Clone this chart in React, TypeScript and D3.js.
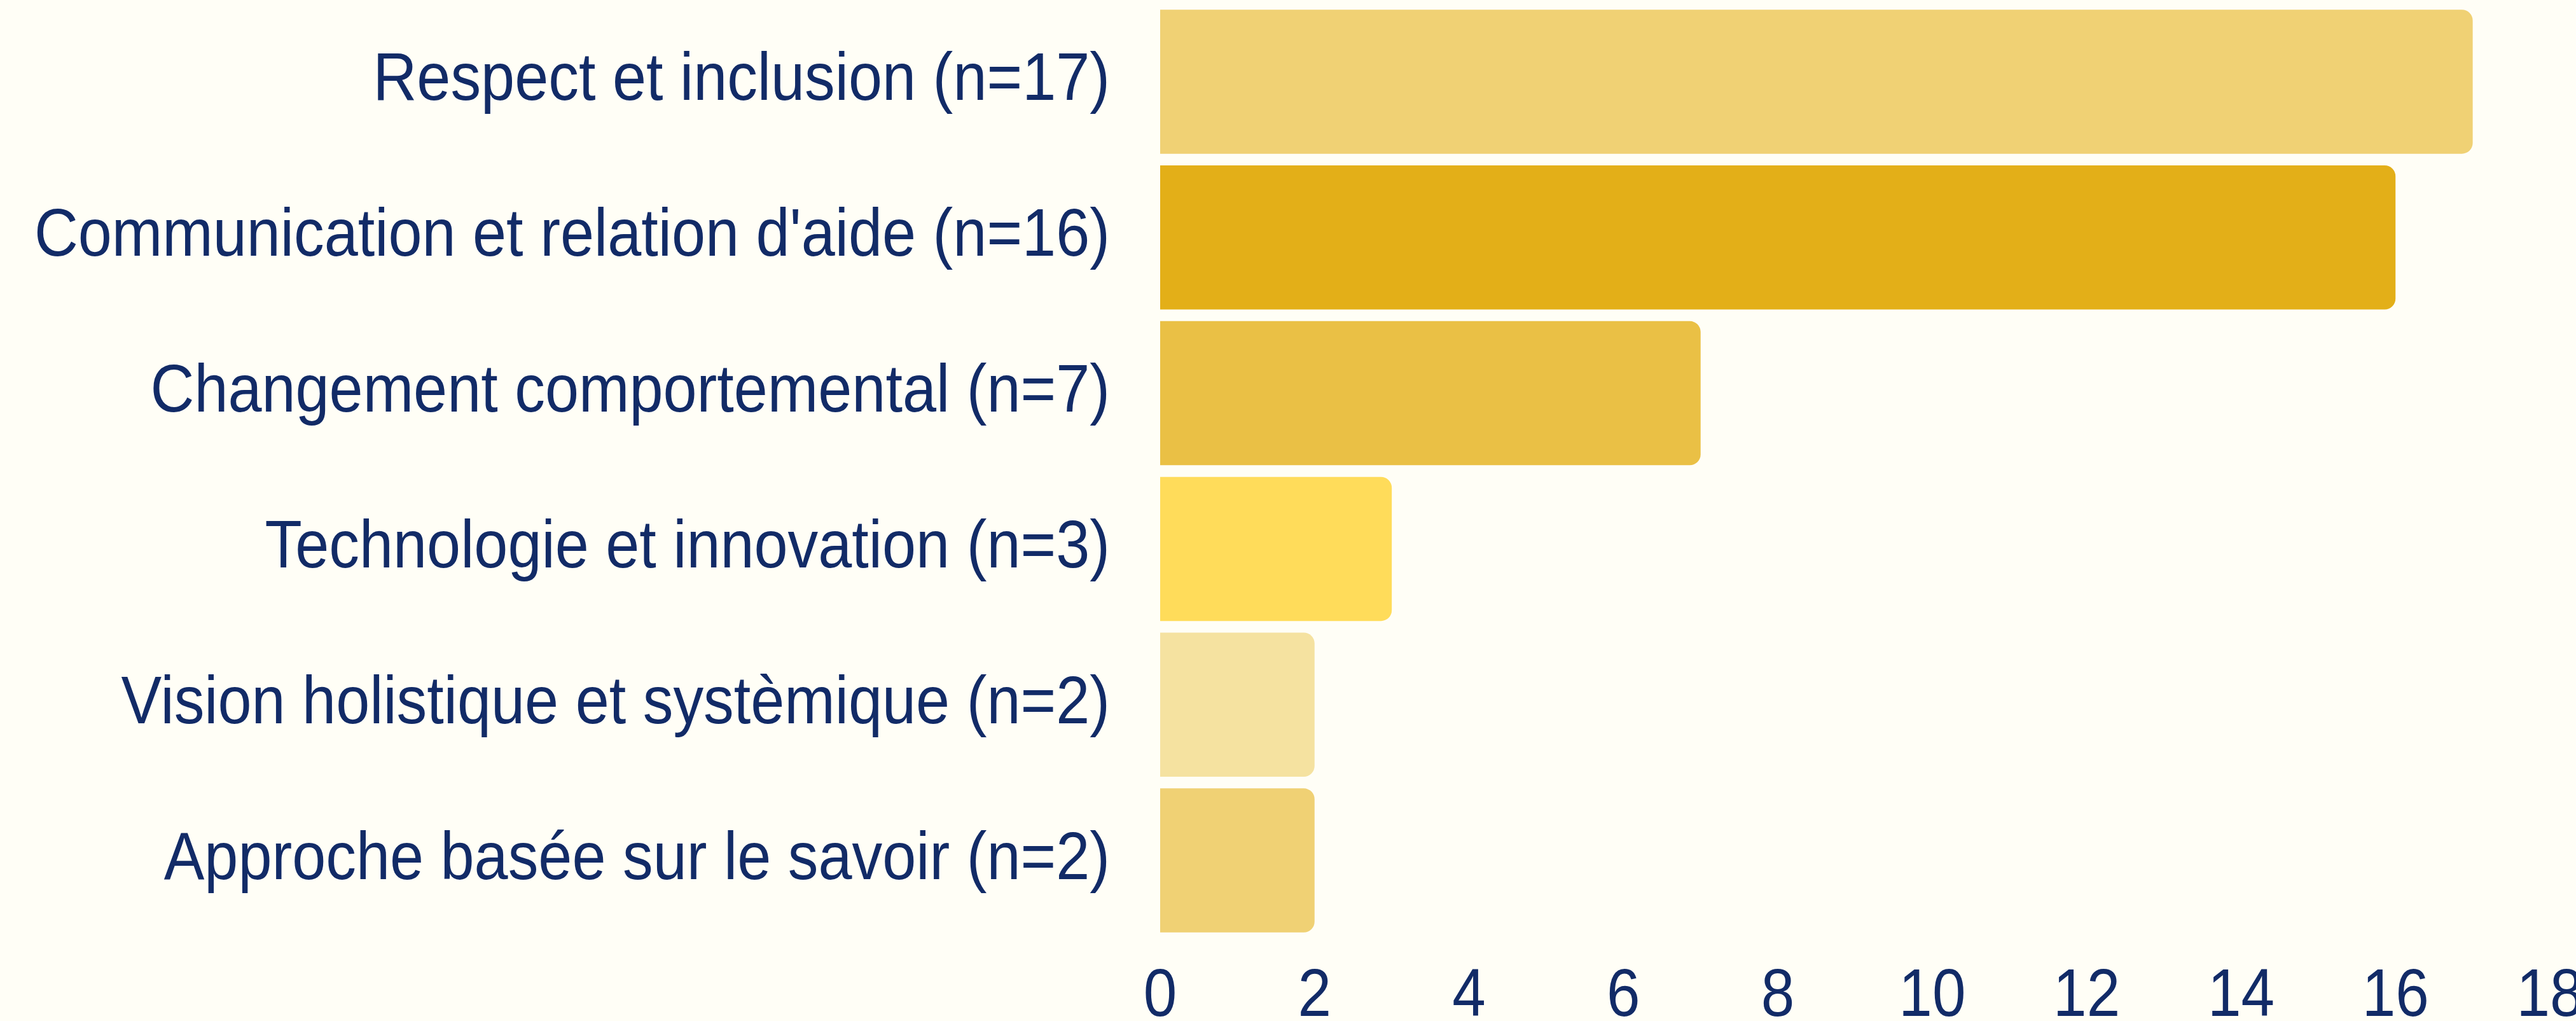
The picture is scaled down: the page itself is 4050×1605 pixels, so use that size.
import React, { useEffect, useRef } from 'react';
import * as d3 from 'd3';

const categories = [
  'Respect et inclusion (n=17)',
  "Communication et relation d'aide (n=16)",
  'Changement comportemental (n=7)',
  'Technologie et innovation (n=3)',
  'Vision holistique et systèmique (n=2)',
  'Approche basée sur le savoir (n=2)',
];
const values = [17, 16, 7, 3, 2, 2];
const barColors = ['#F0D174', '#E3AF18', '#EAC045', '#FFDC5A', '#F5E2A0', '#F0D174'];
const xTicks = [0, 2, 4, 6, 8, 10, 12, 14, 16, 18];

const W = 4050;
const H = 1605;

const App: React.FC = () => {
  const svgRef = useRef<SVGSVGElement>(null);

  useEffect(() => {
    if (!svgRef.current) return;
    const svg = d3.select(svgRef.current);
    svg.selectAll('*').remove();

    svg.append('rect').attr('width', W).attr('height', H).attr('fill', '#FFFEF6');

    const x = d3.scaleLinear().domain([0, 18]).range([1824, 4009]);
    const y = d3.scaleBand<string>()
      .domain(categories)
      .range([6, 1475])
      .paddingInner(0.075)
      .paddingOuter(0.0375);

    const r = 17;
    // bars: square on the left, rounded on the right
    const barPath = (x0: number, x1: number, y0: number, h: number) => {
      const p = d3.path();
      p.moveTo(x0, y0);
      p.lineTo(x1 - r, y0);
      p.arcTo(x1, y0, x1, y0 + r, r);
      p.lineTo(x1, y0 + h - r);
      p.arcTo(x1, y0 + h, x1 - r, y0 + h, r);
      p.lineTo(x0, y0 + h);
      p.closePath();
      return p.toString();
    };

    svg.append('g')
      .selectAll('path')
      .data(categories)
      .join('path')
      .attr('d', (d, i) => barPath(x(0), x(values[i]), y(d)!, y.bandwidth()))
      .attr('fill', (d, i) => barColors[i]);

    // no narrow font installed, so squeeze the regular one
    const font = '"Liberation Sans", Arial, sans-serif';
    const textColor = '#122B67';
    const squeeze = 0.9;

    svg.append('g')
      .selectAll('text')
      .data(categories)
      .join('text')
      .attr('transform', (d) => `translate(1745,${y(d)! + y.bandwidth() / 2 + 29}) scale(${squeeze},1)`)
      .attr('text-anchor', 'end')
      .attr('font-family', font)
      .attr('font-size', 106)
      .attr('fill', textColor)
      .text((d) => d);

    svg.append('g')
      .selectAll('text')
      .data(xTicks)
      .join('text')
      .attr('transform', (d) => `translate(${x(d)},1597) scale(${squeeze},1)`)
      .attr('text-anchor', 'middle')
      .attr('font-family', font)
      .attr('font-size', 105)
      .attr('fill', textColor)
      .text((d) => d);
  }, []);

  return (
    <svg
      ref={svgRef}
      width={W}
      height={H}
      style={{ position: 'absolute', top: 0, left: 0, display: 'block' }}
    />
  );
};

export default App;
